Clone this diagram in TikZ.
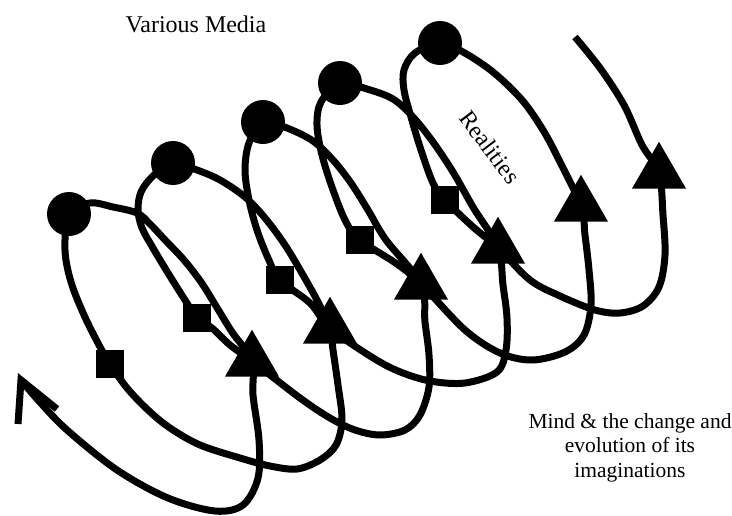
\documentclass[tikz,border=0pt]{standalone}
\usepackage{fontspec}
\setmainfont{Liberation Serif}
\newfontfamily\labelface{Liberation Serif}
\usetikzlibrary{shapes.geometric}
\begin{document}
\begin{tikzpicture}[x=1pt,y=-1pt,
  coil/.style={line width=7pt, black},
  dotmark/.style={circle, fill=black, minimum size=44pt, inner sep=0pt},
  boxmark/.style={rectangle, fill=black, minimum size=28pt, inner sep=0pt},
  trimark/.style={regular polygon, regular polygon sides=3, fill=black,
                  minimum size=62.4pt, inner sep=0pt, outer sep=0pt},
  caption/.style={inner sep=0pt, text=black}]
\useasboundingbox (0,0) rectangle (732,515);

% circles along the top of each turn
\node[dotmark] (c1) at (69,214) {};
\node[dotmark] (c2) at (173,163) {};
\node[dotmark] (c3) at (263,122) {};
\node[dotmark] (c4) at (340,83) {};
\node[dotmark] (c5) at (440,43) {};
% squares on the rising side
\node[boxmark] (s1) at (110,364) {};
\node[boxmark] (s2) at (197,318) {};
\node[boxmark] (s3) at (280,280) {};
\node[boxmark] (s4) at (360,240) {};
\node[boxmark] (s5) at (445,200) {};
% triangles where the turns cross
\node[trimark] (t1) at (252,361) {};
\node[trimark] (t2) at (330,328) {};
\node[trimark] (t3) at (421,284) {};
\node[trimark] (t4) at (498,248) {};
\node[trimark] (t5) at (581,206) {};
\node[trimark] (t6) at (659,173) {};

\coordinate (start) at (575,37);
\coordinate (tip) at (21,380);
\coordinate (barbL) at (18,424);
\coordinate (barbR) at (57,409);

% the coil, one continuous stroke
\draw[coil] plot[smooth, tension=0.55] coordinates {
  (start) (600,68) (624,105) (642,145) (t6.center) (663,215) (665,255)
  (659,287) (643,306) (620,313) (595,310) (560,296) (530,280) (t4.center)
  (472,226) (s5.center) (433,183) (421,150) (411,117) (404,90) (404,70)
  (415,53) (c5.center) (463,52) (493,72) (522,100) (543,130) (559,160)
  (t5.center) (585,235) (589,270) (591,305) (584,335) (565,352) (532,360)
  (500,353) (465,330) (t3.center) (397,264) (s4.center) (346,222)
  (333,190) (322,155) (317,125) (321,102) (c4.center) (367,89) (393,99)
  (413,117) (433,142) (453,172) (473,207) (t4.center) (503,285)
  (507,318) (506,350) (497,372) (465,383) (430,381) (398,371) (370,356)
  (t2.center) (310,303) (s3.center) (268,258) (257,230) (249,200)
  (245,170) (249,143) (c3.center) (287,128) (313,141) (333,160)
  (351,183) (368,210) (386,240) (t3.center) (425,322) (429,355)
  (429,387) (420,415) (405,430) (380,435) (355,430) (330,418) (300,398)
  (t1.center) (230,345) (212,328) (s2.center) (185,300) (168,273)
  (153,248) (142,228) (138,210) (141,192) (153,176) (c2.center)
  (197,170) (220,180) (245,197) (265,218) (285,245) (303,275) (318,302)
  (t2.center) (333,350) (338,385) (342,420) (336,445) (320,460)
  (297,469) (270,466) (240,458) (200,445) (170,428) (148,410) (127,388)
  (s1.center) (99,345) (84,315) (71,282) (65,250) (c1.center) (90,203)
  (113,207) (137,213) (150,224) (166,241) (184,260) (201,282) (216,306)
  (232,332) (t1.center) (253,395) (259,440) (258,478) (243,505)
  (215,511) (168,498) (117,470) (67,430) (38,400) (tip)};
% open arrowhead at the end of the coil
\draw[coil, line join=miter] (barbL) -- (tip) -- (barbR);

\node[caption, font=\labelface\fontsize{24}{28}\selectfont, anchor=base]
  (media) at (196,32) {Various Media};
\node[caption, font=\labelface\fontsize{24}{28}\selectfont, rotate=-53]
  (real) at (490,147) {Realities};
\node[caption, font=\labelface\fontsize{21.5}{24.5}\selectfont, align=center, anchor=base]
  (mind) at (630,477) {Mind \& the change and\\evolution of its\\imaginations};
\end{tikzpicture}
\end{document}
